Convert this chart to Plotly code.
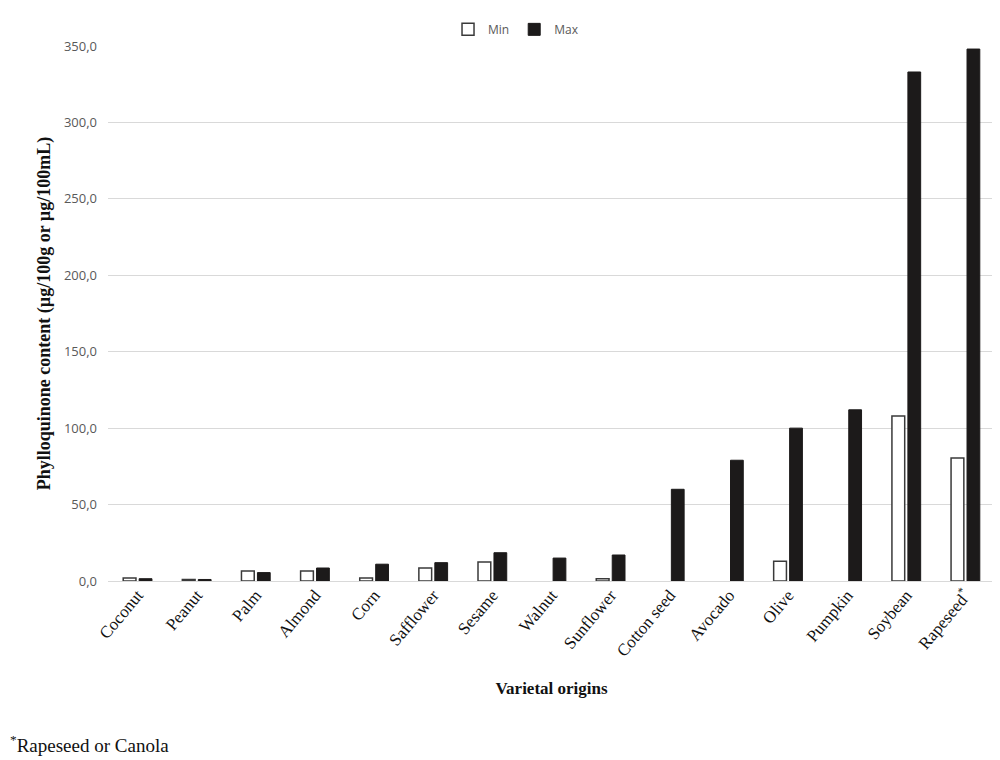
import plotly.graph_objects as go

categories = ["Coconut", "Peanut", "Palm", "Almond", "Corn", "Safflower", "Sesame",
              "Walnut", "Sunflower", "Cotton seed", "Avocado", "Olive", "Pumpkin",
              "Soybean", "Rapeseed<sup>*</sup>"]
min_values = [2.0, 1.0, 6.5, 6.5, 2.0, 8.5, 12.5, None, 1.5, None, None, 13.0, None, 108.0, 80.5]
max_values = [1.5, 1.0, 5.5, 8.5, 11.0, 12.0, 18.5, 15.0, 17.0, 60.0, 79.0, 100.0, 112.0, 333.0, 348.0]
y_ticks = [0, 50, 100, 150, 200, 250, 300, 350]

fig = go.Figure()
fig.add_trace(go.Bar(
    x=categories, y=min_values, name="Min",
    marker=dict(color="white", line=dict(color="#3a3a3a", width=1.5)),
))
fig.add_trace(go.Bar(
    x=categories, y=max_values, name="Max",
    marker=dict(color="#1c1a1a", line=dict(color="#1c1a1a", width=1)),
))

fig.update_layout(
    width=992, height=752,
    paper_bgcolor="white", plot_bgcolor="white",
    separators=",.",
    barmode="group", bargap=0.46, bargroupgap=0.2,
    margin=dict(l=100, r=5, t=38, b=179),
    showlegend=True,
    legend=dict(orientation="h", x=0.46, xanchor="center", y=1.004, yanchor="bottom",
                font=dict(family="Open Sans, sans-serif", size=12, color="#595959"),
                itemwidth=30, traceorder="normal", tracegroupgap=0,
                borderwidth=0),
    xaxis=dict(
        automargin=False,
        tickangle=-50, showgrid=False, showline=False, ticks="",
        tickfont=dict(family="Liberation Serif, serif", size=17, color="#111111"),
        title=dict(text="<b>Varietal origins</b>", standoff=22,
                   font=dict(family="Liberation Serif, serif", size=17, color="#111111")),
    ),
    yaxis=dict(
        automargin=False,
        range=[0, 350], tickvals=y_ticks, tickformat=".1f",
        showgrid=True, gridcolor="#d9d9d9", gridwidth=1,
        zeroline=True, zerolinecolor="#d9d9d9", zerolinewidth=1,
        showline=False, ticks="", ticklabelstandoff=10,
        tickfont=dict(family="Open Sans, sans-serif", size=13, color="#595959"),
        title=dict(text="<b>Phylloquinone content (µg/100g or µg/100mL)</b>", standoff=8,
                   font=dict(family="Liberation Serif, serif", size=18, color="#111111")),
    ),
)

fig.add_annotation(
    text="<sup>*</sup>Rapeseed or Canola", xref="paper", yref="paper",
    x=-0.1127, y=-0.305, xanchor="left", yanchor="middle", showarrow=False,
    font=dict(family="Liberation Serif, serif", size=19, color="#111111"),
)

fig.write_html("out.html")
